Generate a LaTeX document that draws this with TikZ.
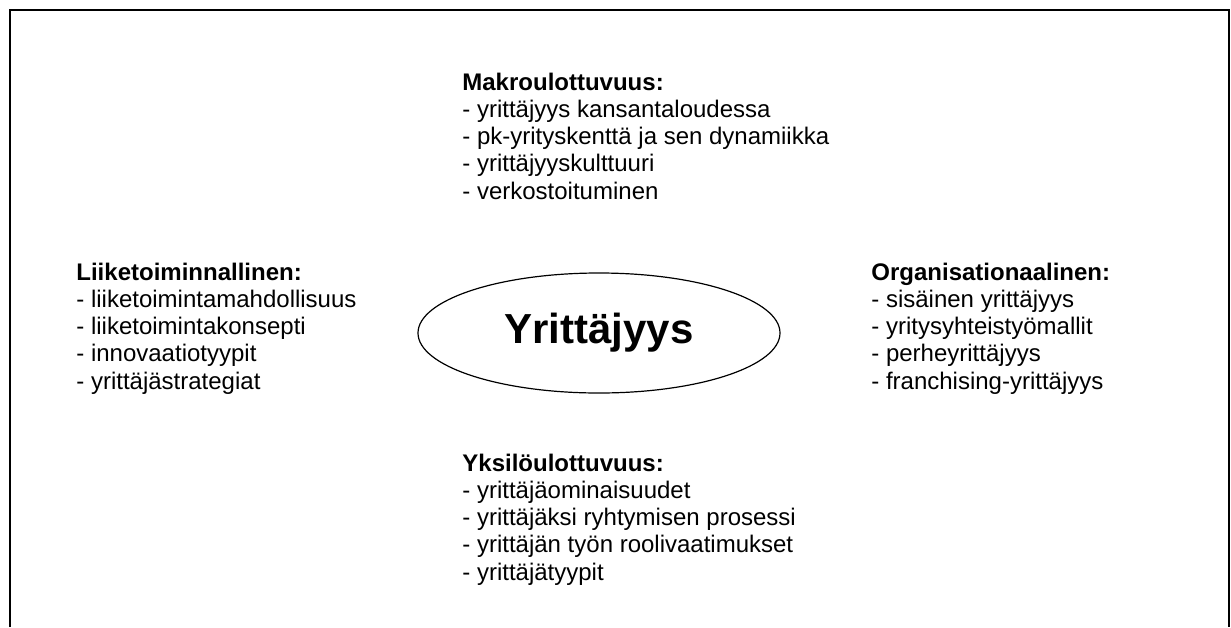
\documentclass[tikz,border=0pt]{standalone}
\usepackage{fontspec}
\setmainfont{Liberation Sans}
\usetikzlibrary{shapes.geometric}

\begin{document}
\begin{tikzpicture}[x=0.5pt, y=-0.5pt, font=\fontsize{12}{13.6}\selectfont,
		osa/.style={anchor=base west, align=left, inner sep=0pt}]
		
		% 边框
		\useasboundingbox (0,0) rectangle (1231,627);
		\draw[line width=1pt] (10,627) -- (10,10) -- (1229,10) -- (1229,627);
		
		% 中心椭圆
		\node[draw, ellipse, line width=0.6pt, minimum width=181pt, minimum height=60pt, inner sep=0pt,
			font=\fontsize{21}{25}\selectfont\bfseries] (yrittajyys) at (599,333) {Yrittäjyys};
		
		% 四个方面（坐标为最后一行的基线）
		\node[osa] (makro) at (462,199) {\textbf{Makroulottuvuus:}\\- yrittäjyys kansantaloudessa\\- pk-yrityskenttä ja sen dynamiikka\\- yrittäjyyskulttuuri\\- verkostoituminen};
		\node[osa] (liike) at (76,389) {\textbf{Liiketoiminnallinen:}\\- liiketoimintamahdollisuus\\- liiketoimintakonsepti\\- innovaatiotyypit\\- yrittäjästrategiat};
		\node[osa] (organ) at (871,389) {\textbf{Organisationaalinen:}\\- sisäinen yrittäjyys\\- yritysyhteistyömallit\\- perheyrittäjyys\\- franchising-yrittäjyys};
		\node[osa] (yksilo) at (462,580) {\textbf{Yksilöulottuvuus:}\\- yrittäjäominaisuudet\\- yrittäjäksi ryhtymisen prosessi\\- yrittäjän työn roolivaatimukset\\- yrittäjätyypit};
\end{tikzpicture}
\end{document}
